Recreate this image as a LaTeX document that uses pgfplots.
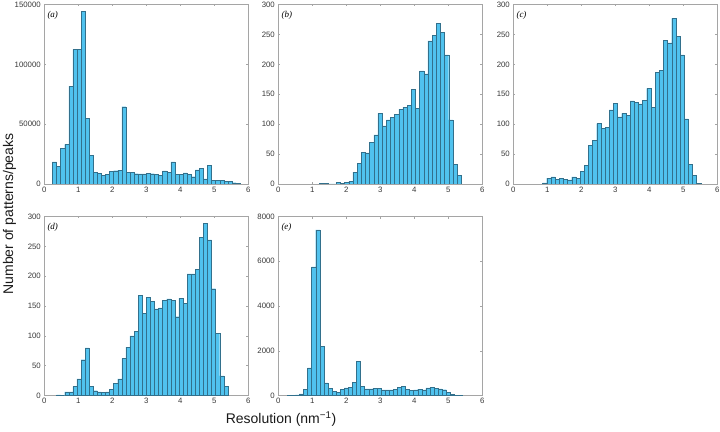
\documentclass[border=0pt]{standalone}
\usepackage{pgfplots}
\pgfplotsset{compat=1.18}
\usepackage{fontspec}
\setmainfont{Liberation Sans}
\newfontfamily\seriffont{Liberation Serif}
\definecolor{barfill}{RGB}{80,194,238}
\definecolor{baredge}{RGB}{50,112,140}
\definecolor{axgray}{RGB}{165,165,165}
\definecolor{ticktext}{RGB}{55,55,55}
\pgfplotsset{
  hist/.style={
    scale only axis, width=204pt, height=179.5pt,
    anchor=south west,
    xmin=0, xmax=6, ymin=0,
    xtick={0,1,2,3,4,5,6},
    tick align=inside, xtick pos=both, ytick pos=both,
    major tick length=2pt,
    axis line style={axgray, line width=0.5pt},
    tick style={axgray, line width=0.45pt},
    tick label style={font=\fontsize{7.8}{9}\selectfont, text=ticktext},
    /pgf/number format/assume math mode=true,
    /pgf/number format/fixed,
    /pgf/number format/precision=0,
    /pgf/number format/1000 sep={},
    scaled y ticks=false,
    xticklabel style={yshift=0.5pt},
  },
  bars/.style={ybar interval, fill=barfill, draw=baredge, line width=0.35pt},
}
\tikzset{plab/.style={anchor=north west, font=\fontsize{9}{10}\seriffont\itshape, inner sep=0pt}}
\begin{document}
\begin{tikzpicture}
\useasboundingbox (0pt,0pt) rectangle (720pt,431pt);
% (a)
\begin{axis}[hist, at={(44.3pt,247pt)}, ymax=150000, ytick={0,50000,100000,150000}]
\addplot[bars] coordinates {(0.24,18400)(0.36,14500)(0.48,29800)(0.60,33100)(0.72,81800)(0.84,112400)(0.96,112400)(1.08,144400)(1.20,55100)(1.32,24000)(1.44,9700)(1.56,8900)(1.68,7000)(1.80,8000)(1.92,10600)(2.04,11100)(2.16,11400)(2.28,64600)(2.40,10000)(2.52,9500)(2.64,8600)(2.76,8400)(2.88,8400)(3.00,8900)(3.12,8600)(3.24,8000)(3.36,7200)(3.48,10900)(3.60,10000)(3.72,18400)(3.84,7800)(3.96,7800)(4.08,9200)(4.20,8000)(4.32,6100)(4.44,11700)(4.56,13100)(4.68,4200)(4.80,15600)(4.92,3300)(5.04,3100)(5.16,2800)(5.28,2500)(5.40,2000)(5.52,1100)(5.64,500)(5.76,0)};
\node[plab] at (rel axis cs:0,1) [xshift=3pt, yshift=-7pt] {(a)};
\end{axis}
% (b)
\begin{axis}[hist, at={(278.3pt,247pt)}, ymax=300, ytick={0,50,100,150,200,250,300}]
\addplot[bars] coordinates {(1.215,1)(1.338,1)(1.460,0)(1.583,0)(1.705,3)(1.828,1)(1.950,3)(2.073,5)(2.195,20)(2.318,35)(2.440,53)(2.563,52)(2.685,70)(2.808,82)(2.930,118)(3.053,97)(3.175,107)(3.298,111)(3.420,116)(3.543,125)(3.665,128)(3.788,131)(3.910,158)(4.033,126)(4.155,189)(4.278,184)(4.400,239)(4.523,249)(4.645,268)(4.768,253)(4.890,216)(5.013,107)(5.135,33)(5.258,14)(5.380,0)};
\node[plab] at (rel axis cs:0,1) [xshift=3pt, yshift=-7pt] {(b)};
\end{axis}
% (c)
\begin{axis}[hist, at={(513.3pt,247pt)}, ymax=300, ytick={0,50,100,150,200,250,300}]
\addplot[bars] coordinates {(0.860,2)(0.983,10)(1.105,12)(1.228,8)(1.350,9)(1.473,8)(1.595,7)(1.718,12)(1.840,10)(1.963,21)(2.085,31)(2.208,65)(2.330,73)(2.453,101)(2.575,93)(2.698,95)(2.820,124)(2.943,135)(3.065,112)(3.188,118)(3.310,115)(3.433,139)(3.555,137)(3.678,134)(3.800,140)(3.923,160)(4.045,128)(4.168,187)(4.290,190)(4.413,240)(4.535,236)(4.658,277)(4.780,247)(4.903,216)(5.025,109)(5.148,33)(5.270,14)(5.393,1)(5.515,0)};
\node[plab] at (rel axis cs:0,1) [xshift=3pt, yshift=-7pt] {(c)};
\end{axis}
% (d)
\begin{axis}[hist, at={(44.3pt,35.5pt)}, height=179pt, ymax=300, ytick={0,50,100,150,200,250,300}]
\addplot[bars] coordinates {(0.36,1)(0.48,0)(0.60,6)(0.72,6)(0.84,15)(0.96,28)(1.08,60)(1.20,80)(1.32,15)(1.44,8)(1.56,6)(1.68,5)(1.80,6)(1.92,10)(2.04,20)(2.16,28)(2.28,62)(2.40,81)(2.52,100)(2.64,107)(2.76,168)(2.88,138)(3.00,164)(3.12,158)(3.24,145)(3.36,147)(3.48,160)(3.60,162)(3.72,160)(3.84,132)(3.96,163)(4.08,155)(4.20,204)(4.32,204)(4.44,211)(4.56,265)(4.68,289)(4.80,261)(4.92,179)(5.04,104)(5.16,33)(5.28,15)(5.40,0)};
\node[plab] at (rel axis cs:0,1) [xshift=3pt, yshift=-7pt] {(d)};
\end{axis}
% (e)
\begin{axis}[hist, at={(278.3pt,35.5pt)}, height=179pt, ymax=8000, ytick={0,2000,4000,6000,8000}]
\addplot[bars] coordinates {(0.26,5)(0.38,15)(0.50,30)(0.62,70)(0.74,280)(0.86,1230)(0.98,5750)(1.10,7400)(1.22,2210)(1.34,560)(1.46,330)(1.58,200)(1.70,150)(1.82,280)(1.94,340)(2.06,360)(2.18,590)(2.30,1520)(2.42,410)(2.54,300)(2.66,300)(2.78,320)(2.90,330)(3.02,250)(3.14,250)(3.26,250)(3.38,280)(3.50,370)(3.62,420)(3.74,290)(3.86,230)(3.98,250)(4.10,290)(4.22,250)(4.34,340)(4.46,350)(4.58,330)(4.70,300)(4.82,260)(4.94,150)(5.06,60)(5.18,20)(5.30,8)(5.42,0)};
\node[plab] at (rel axis cs:0,1) [xshift=3pt, yshift=-7pt] {(e)};
\end{axis}
\node[rotate=90, font=\fontsize{14}{16}\selectfont, text=black!90] at (9.5pt,217pt) {Number of patterns/peaks};
\node[font=\fontsize{14}{16}\selectfont, text=black!90] at (281pt,12pt) {Resolution (nm\textsuperscript{\char"2212 1})};
\end{tikzpicture}
\end{document}
